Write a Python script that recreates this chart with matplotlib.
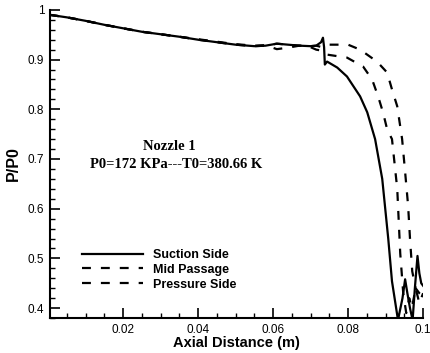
import numpy as np
import matplotlib.pyplot as plt
from matplotlib.ticker import MultipleLocator

###############################
# data
###############################

# shared upstream part (all three traces nearly coincide)
x_up = [0.0005, 0.005, 0.01, 0.015, 0.02, 0.025, 0.03, 0.035, 0.04, 0.045,
        0.05, 0.055, 0.058, 0.061, 0.064, 0.067, 0.070, 0.0715]
y_up = [0.990, 0.985, 0.978, 0.970, 0.963, 0.956, 0.951, 0.946, 0.940, 0.935,
        0.930, 0.927, 0.928, 0.932, 0.930, 0.928, 0.927, 0.928]
y_up_mid = [0.990, 0.985, 0.978, 0.970, 0.963, 0.956, 0.951, 0.946, 0.941, 0.936,
            0.931, 0.928, 0.929, 0.921, 0.924, 0.928, 0.925, 0.920]

# suction side tail
x_suc = [0.0728, 0.0733, 0.0736, 0.0738, 0.0744, 0.0771, 0.0797, 0.0832, 0.0851,
         0.0872, 0.0891, 0.0907, 0.0917, 0.0933, 0.0945, 0.0952, 0.0958, 0.0965,
         0.0972, 0.0978, 0.0985, 0.0990, 0.0995, 0.1]
y_suc = [0.935, 0.944, 0.925, 0.890, 0.896, 0.884, 0.866, 0.826, 0.794,
         0.740, 0.660, 0.540, 0.454, 0.376, 0.420, 0.458, 0.430, 0.400,
         0.376, 0.440, 0.505, 0.470, 0.450, 0.445]

# mid passage tail
x_mid = [0.0730, 0.0738, 0.0744, 0.0797, 0.0840, 0.0864, 0.0880, 0.0893, 0.0904,
         0.0917, 0.0931, 0.0939, 0.0947, 0.0955, 0.0963, 0.0970, 0.0980, 0.0990, 0.1]
y_mid = [0.918, 0.912, 0.910, 0.904, 0.886, 0.860, 0.826, 0.794, 0.760,
         0.740, 0.640, 0.510, 0.430, 0.390, 0.420, 0.400, 0.440, 0.410, 0.430]

# pressure side tail
x_pre = [0.0730, 0.0744, 0.0800, 0.0832, 0.0877, 0.0904, 0.0917, 0.0931, 0.0944,
         0.0952, 0.0960, 0.0965, 0.0971, 0.0980, 0.0990, 0.0997, 0.1]
y_pre = [0.925, 0.930, 0.930, 0.920, 0.896, 0.874, 0.840, 0.806, 0.740,
         0.674, 0.606, 0.540, 0.474, 0.440, 0.430, 0.426, 0.420]

labels = ['Suction Side', 'Mid Passage', 'Pressure Side']

###############################
# plot
###############################
plt.rcParams['font.family'] = ['Liberation Sans', 'DejaVu Sans']

fig = plt.figure(figsize=(4.3, 3.53), dpi=100)
ax = fig.add_axes([0.116, 0.099, 0.868, 0.873])

ax.plot(x_up + x_suc, y_up + y_suc, color='k', lw=1.6, label=labels[0])
ax.plot(x_up + x_mid, y_up_mid + y_mid, color='k', lw=1.6, dashes=(4, 4.5),
        label=labels[1])
ax.plot(x_up + x_pre, y_up + y_pre, color='k', lw=1.6, dashes=(4, 4.5),
        label=labels[2])

ax.set_xlim(0.0005, 0.1)
ax.set_ylim(0.38, 1.0)
ax.xaxis.set_minor_locator(MultipleLocator(0.005))
ax.yaxis.set_minor_locator(MultipleLocator(0.02))
ax.set_xticks([0.02, 0.04, 0.06, 0.08, 0.1])
ax.set_xticklabels(['0.02', '0.04', '0.06', '0.08', '0.1'])
ax.set_yticks([0.4, 0.5, 0.6, 0.7, 0.8, 0.9, 1.0])
ax.set_yticklabels(['0.4', '0.5', '0.6', '0.7', '0.8', '0.9', '1'])

ax.spines['top'].set_visible(False)
ax.spines['right'].set_visible(False)
ax.spines['left'].set_linewidth(1.5)
ax.spines['bottom'].set_linewidth(1.5)
ax.tick_params(which='major', direction='in', length=7, width=1.2,
               labelsize=8.5, pad=4)
ax.tick_params(which='minor', direction='in', length=3.5, width=1.0)

ax.set_xlabel('Axial Distance (m)', fontsize=10.5, fontweight='bold', labelpad=0)
ax.set_ylabel('P/P0', fontsize=11.5, fontweight='bold', labelpad=5)

ax.text(0.0323, 0.725, 'Nozzle 1', ha='center', va='center',
        fontsize=10.5, fontweight='bold', family='Liberation Serif')
ax.text(0.0341, 0.688, 'P0=172 KPa---T0=380.66 K', ha='center', va='center',
        fontsize=10.5, fontweight='bold', family='Liberation Serif')

ax.legend(loc='upper left', bbox_to_anchor=(0.086, 0.224), frameon=False,
          borderaxespad=0, borderpad=0, handlelength=4.9, handletextpad=0.8,
          labelspacing=0.22, prop={'weight': 'bold', 'size': 9})

fig.savefig('out.png', dpi=100)
